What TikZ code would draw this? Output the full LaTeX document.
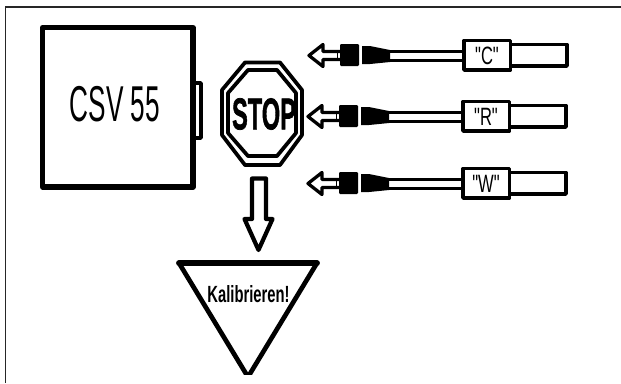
\documentclass[tikz,border=0pt]{standalone}
\usepackage{fontspec}
\setmainfont{Liberation Sans}
\newfontfamily\plainfont{Liberation Sans}
\newfontfamily\fatfont[FakeBold=1.6]{Liberation Sans Bold}
\tikzset{
  heavy/.style={line width=4.4pt,line join=round},
  medium/.style={line width=3.2pt,line join=round},
  lbl/.style={inner sep=0pt,font=\plainfont\fontsize{21.4}{24}\selectfont},
}
\begin{document}
\begin{tikzpicture}[x=0.03cm,y=-0.03cm]
\useasboundingbox (0,0) rectangle (621,383);
\draw[line width=1.6pt,black!85] (5.5,383) -- (5.5,7) -- (621,7);
% device
\draw[medium] (195,83) -- (201,83) -- (201,138) -- (195,138);
\draw[heavy] (42.5,27.5) rectangle (193,187);
\node[inner sep=0pt] (csv) at (115,104) {\fontsize{43}{48}\selectfont\scalebox{0.52}[1]{CSV 55}};
% stop sign
\draw[medium] (245,62.5) -- (280,62.5) -- (302,90) -- (302,135) -- (280,165) -- (245,165) -- (222,135) -- (222,90) -- cycle;
\draw[medium] (248,70) -- (277,70) -- (296,93) -- (296,133) -- (277,156) -- (248,156) -- (228,133) -- (228,93) -- cycle;
\node[inner sep=0pt] (stop) at (264,114) {\fatfont\fontsize{38}{42}\selectfont\scalebox{0.53}[1]{STOP}};
% arrow down
\draw[line width=3.6pt,line join=round] (252,178.5) -- (266,178.5) -- (266,219) -- (272.5,219) -- (258.5,250) -- (244.5,219) -- (252,219) -- cycle;
% triangle
\begin{scope}
\clip (170,255) rectangle (326,374.5);
\draw[line width=4pt,line join=round] (179,263) -- (317,263) -- (248,377) -- cycle;
\end{scope}
\draw[line width=5pt,line cap=round] (179,263) -- (317,263);
\node[inner sep=0pt] (kal) at (248.5,294) {\fontsize{20}{24}\selectfont\bfseries\scalebox{0.63}[1]{Kalibrieren!}};
% sensors
\foreach \dx/\dy/\name/\txt in {0/0/c/"C",-1/61/r/"R",-1/128/w/"W"}{
\begin{scope}[shift={(\dx,\dy)}]
\draw[line width=2.8pt,line join=round] (340,51.5) -- (323,51.5) -- (323,44.5) -- (309,55.5) -- (323,66.5) -- (323,59.5) -- (340,59.5);
\draw[line width=0.8pt] (337,51) -- (337,60);
\fill[rounded corners=1pt] (340,44) rectangle (359,66);
\fill (362,46) -- (370,46) -- (390,50) -- (390,62) -- (370,64) -- (362,64) -- cycle;
\draw[line width=3.2pt] (390,51.5) -- (464,51.5);
\draw[line width=3.2pt] (390,60.5) -- (464,60.5);
\draw[medium] (511,44.5) -- (567,44.5) -- (567,66) -- (511,66);
\draw[medium] (464,40.5) rectangle (510.5,70);
\node[lbl] (\name) at (487,56) {\scalebox{0.66}[1]{\txt}};
\end{scope}
}
\end{tikzpicture}
\end{document}
